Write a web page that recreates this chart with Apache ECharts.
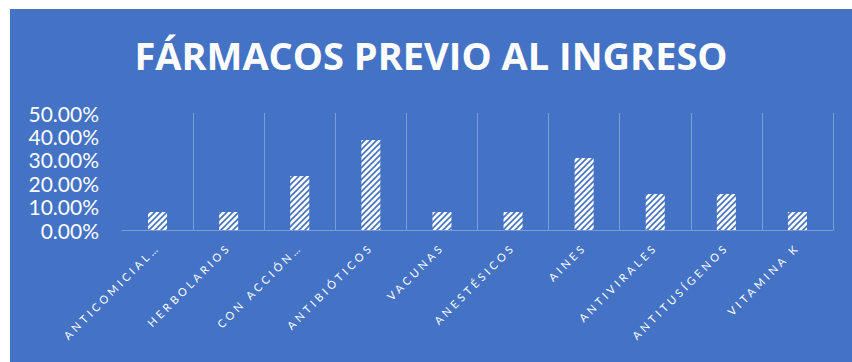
<!DOCTYPE html>
<html>
<head>
<meta charset="utf-8">
<script src="https://cdn.jsdelivr.net/npm/echarts@6/dist/echarts.min.js"></script>
<style>
  html, body { margin: 0; padding: 0; background: #ffffff; }
  #chart { position: absolute; left: 10px; top: 9px; width: 842px; height: 353px; }
</style>
</head>
<body>
<div id="chart"></div>
<script>
const titleText = 'FÁRMACOS PREVIO AL INGRESO';
const categories = ['ANTICOMICIAL…', 'HERBOLARIOS', 'CON ACCIÓN…', 'ANTIBIÓTICOS', 'VACUNAS', 'ANESTÉSICOS', 'AINES', 'ANTIVIRALES', 'ANTITUSÍGENOS', 'VITAMINA K'];
const values = [7.69, 7.69, 23.08, 38.46, 7.69, 7.69, 30.77, 15.38, 15.38, 7.69];
const yTicks = [0, 10, 20, 30, 40, 50];

const BLUE = '#4472C4';

// hatch pattern tile (white with blue "/" stripes)
const tile = document.createElement('canvas');
tile.width = 6; tile.height = 6;
const tc = tile.getContext('2d');
tc.fillStyle = '#ffffff';
tc.fillRect(0, 0, 6, 6);
tc.strokeStyle = BLUE;
tc.lineWidth = 1.6;
tc.beginPath();
tc.moveTo(-1, 7); tc.lineTo(7, -1);
tc.moveTo(-4, 4); tc.lineTo(4, -4);
tc.moveTo(2, 10); tc.lineTo(10, 2);
tc.stroke();

const chart = echarts.init(document.getElementById('chart'), null, { renderer: 'svg' });
const catSet = new Set(categories);

chart.setOption({
  backgroundColor: BLUE,
  animation: false,
  title: {
    text: titleText,
    left: 'center',
    top: 22,
    textStyle: { color: '#ffffff', fontFamily: 'Open Sans', fontWeight: 'bold', fontSize: 38 }
  },
  grid: { left: 112, right: 19, top: 104, bottom: 132, containLabel: false },
  xAxis: {
    type: 'category',
    data: categories,
    axisLine: { lineStyle: { color: 'rgba(255,255,255,0.3)', width: 1 } },
    axisTick: { show: false },
    splitLine: { show: true, showMinLine: false, showMaxLine: true, lineStyle: { color: 'rgba(255,255,255,0.3)', width: 1 } },
    axisLabel: {
      interval: 0,
      rotate: 45,
      margin: 15,
      color: '#ffffff',
      fontFamily: 'Lato',
      fontSize: 11
    }
  },
  yAxis: {
    type: 'value',
    min: yTicks[0],
    max: yTicks[yTicks.length - 1],
    interval: 10,
    axisLine: { show: false },
    axisTick: { show: false },
    splitLine: { show: false },
    axisLabel: {
      color: '#ffffff',
      fontFamily: 'Lato',
      fontSize: 21,
      margin: 23,
      formatter: v => v.toFixed(2) + '%'
    }
  },
  series: [{
    type: 'bar',
    data: values,
    barWidth: 19,
    itemStyle: { color: { image: tile, repeat: 'repeat' } }
  }]
});

function spaceLabels() {
  document.querySelectorAll('#chart text').forEach(t => {
    if (catSet.has(t.textContent)) {
      t.style.letterSpacing = '3.4px';
    }
  });
}
spaceLabels();
chart.on('finished', spaceLabels);
</script>
</body>
</html>
